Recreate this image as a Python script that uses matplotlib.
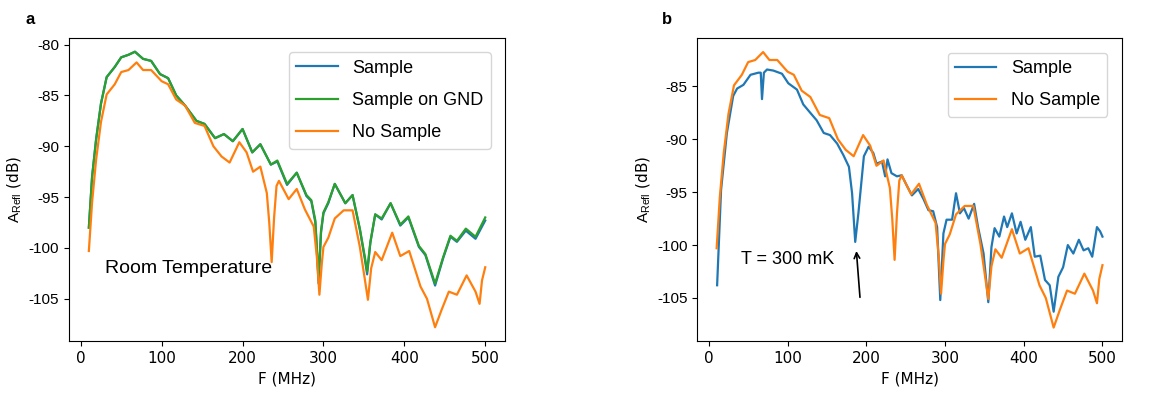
import numpy as np
import matplotlib
matplotlib.use('Agg')
import matplotlib.pyplot as plt

plt.rcParams['axes.unicode_minus'] = False
plt.rcParams['mathtext.fontset'] = 'custom'
plt.rcParams['mathtext.rm'] = 'Liberation Sans'

# --- panel a: room temperature ---
f_a = [10, 14, 19, 25, 32, 42, 50, 59, 67, 77, 87, 98, 108, 118, 129, 143, 153, 166, 177, 188, 200,
       212, 222, 235, 243, 255, 267, 279, 285, 290, 294, 297, 300, 306, 314, 327, 336, 345, 351, 354,
       358, 364, 372, 383, 395, 405, 418, 426, 438, 448, 457, 465, 476, 488, 500]
sample_a = [-98.0, -93.0, -89.3, -85.8, -83.2, -82.2, -81.25, -81.0, -80.7, -81.4, -81.6, -82.9,
            -83.3, -85.0, -86.0, -87.5, -87.8, -89.2, -88.8, -89.5, -88.3, -90.6, -89.8, -91.8,
            -91.5, -93.8, -92.6, -94.9, -95.4, -97.5, -103.5, -98.5, -96.6, -95.6, -93.7, -95.6,
            -94.8, -98.2, -101.0, -102.6, -99.5, -96.7, -97.2, -95.6, -97.8, -97.0, -99.9, -100.7,
            -103.7, -101.0, -98.9, -99.4, -98.3, -99.1, -97.3]
gnd_a = [-98.0, -93.0, -89.3, -85.8, -83.2, -82.2, -81.25, -81.0, -80.7, -81.4, -81.6, -82.9,
         -83.3, -85.0, -86.0, -87.5, -87.8, -89.2, -88.8, -89.5, -88.3, -90.6, -89.8, -91.8,
         -91.4, -93.7, -92.6, -94.8, -95.3, -97.3, -103.0, -98.3, -96.5, -95.5, -93.7, -95.6,
         -94.8, -98.1, -100.8, -102.3, -99.4, -96.7, -97.1, -95.6, -97.7, -96.9, -99.8, -100.6,
         -103.5, -100.9, -98.8, -99.3, -98.1, -98.9, -97.0]

f_ns = [10, 14, 19, 25, 32, 42, 50, 59, 69, 77, 87, 100, 108, 118, 129, 141, 153, 164, 174, 184,
        196, 205, 213, 222, 230, 233, 236, 239, 242, 245, 257, 267, 277, 288, 292, 295, 298, 300,
        306, 314, 325, 336, 345, 351, 355, 359, 364, 372, 385, 395, 406, 420, 428, 438, 446, 455,
        465, 477, 488, 493, 496, 500]
no_sample = [-100.3, -95.5, -91.3, -87.6, -84.9, -83.9, -82.7, -82.5, -81.75, -82.5, -82.5, -83.6,
             -83.9, -85.4, -86.0, -87.7, -88.0, -90.0, -91.0, -91.6, -89.6, -90.6, -92.5, -92.0,
             -94.6, -97.5, -101.4, -97.0, -93.9, -93.4, -95.2, -94.2, -96.2, -97.9, -101.0, -104.6,
             -101.5, -99.9, -99.0, -97.1, -96.3, -96.3, -99.9, -103.0, -105.1, -102.0, -100.4,
             -101.2, -98.5, -100.8, -100.3, -103.8, -105.0, -107.8, -106.1, -104.3, -104.6,
             -102.7, -104.3, -105.5, -103.2, -101.9]

# --- panel b: T = 300 mK ---
f_b = [10.6, 15.6, 23, 31, 36, 44, 53, 63, 66, 67.6, 70, 74, 82, 93, 101, 112, 120, 129, 137,
       146, 154, 163, 171, 178, 182, 186, 190, 197, 203, 209, 213, 220, 224, 227, 232, 239, 245,
       251, 258, 266, 273, 279, 285, 290, 294, 298, 302, 309, 314, 319, 324, 330, 337, 342, 349,
       355, 359, 363, 369, 375, 379, 385, 391, 396, 402, 409, 414, 421, 427, 433, 438, 444, 450,
       456, 463, 470, 476, 482, 487, 493, 497, 500]
sample_b = [-103.8, -94.8, -89.4, -85.9, -85.2, -84.85, -83.9, -83.7, -83.7, -86.2, -83.7, -83.4,
            -83.5, -83.8, -84.7, -85.3, -86.7, -87.5, -88.2, -89.4, -89.6, -90.4, -91.5, -92.6,
            -95.1, -99.7, -97.0, -91.6, -90.7, -91.3, -92.3, -92.1, -93.5, -91.9, -93.2, -93.5,
            -93.4, -94.3, -95.3, -94.7, -95.7, -96.7, -96.8, -98.3, -105.2, -98.9, -97.6, -97.6,
            -95.1, -97.0, -96.5, -97.5, -96.1, -98.3, -100.8, -105.4, -100.2, -98.4, -99.2,
            -97.3, -98.3, -97.0, -98.9, -97.8, -99.5, -98.3, -101.1, -101.0, -103.3, -103.8,
            -106.3, -103.0, -102.1, -100.0, -100.8, -99.5, -100.5, -100.3, -101.1, -98.3, -98.7,
            -99.2]

blue, green, orange = '#1f77b4', '#2ca02c', '#ff7f0e'
tick_font = 'Liberation Sans'

fig = plt.figure(figsize=(11.74, 4.03), dpi=100)
ax1 = fig.add_axes([0.0588, 0.1538, 0.3714, 0.752])
ax2 = fig.add_axes([0.594, 0.153, 0.3615, 0.752])

ax1.plot(f_a, sample_a, color=blue, lw=1.6, label='Sample')
ax1.plot(f_a, gnd_a, color=green, lw=1.6, label='Sample on GND')
ax1.plot(f_ns, no_sample, color=orange, lw=1.6, label='No Sample')
ax1.text(30, -102, 'Room Temperature', fontsize=14, family=tick_font, va='center')

ax2.plot(f_b, sample_b, color=blue, lw=1.6, label='Sample')
ax2.plot(f_ns, no_sample, color=orange, lw=1.6, label='No Sample')
ax2.text(41, -101.4, 'T = 300 mK', fontsize=13, family=tick_font, va='center')
ax2.annotate('', xy=(187.2, -100.3), xytext=(192.3, -105.2),
             arrowprops=dict(arrowstyle='->', color='black', lw=1.2))

for ax in (ax1, ax2):
    ax.set_xticks([0, 100, 200, 300, 400, 500])
    ax.tick_params(axis='x', labelsize=11)
    ax.set_xlabel('F (MHz)', fontsize=11)
    ax.set_ylabel(r'$\mathrm{A_{Refl}}$ (dB)', fontsize=11)
    ax.legend(loc='upper right', labelspacing=0.85, handlelength=2.3,
              borderaxespad=0.8, prop={'family': tick_font, 'size': 13})

ax1.set_yticks([-80, -85, -90, -95, -100, -105])
ax2.set_yticks([-85, -90, -95, -100, -105])
for ax in (ax1, ax2):
    ax.set_yticklabels([str(v) for v in ax.get_yticks().astype(int)],
                       fontfamily=tick_font, fontsize=11)

fig.text(0.0213, 0.97, 'a', fontsize=12, fontweight='bold', family=tick_font, va='top')
fig.text(0.564, 0.97, 'b', fontsize=12, fontweight='bold', family=tick_font, va='top')

fig.savefig('out.png', dpi=100)
